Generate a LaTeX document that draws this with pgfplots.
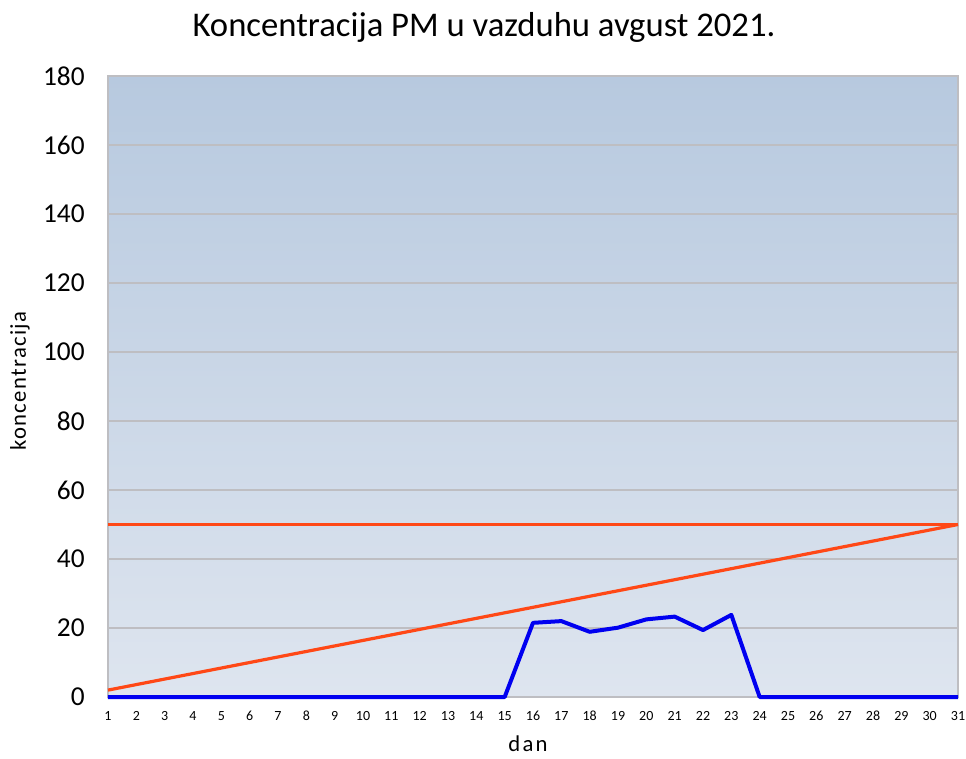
\documentclass[border=0pt]{standalone}
\usepackage{pgfplots}
\pgfplotsset{compat=1.18}
\usepackage{fontspec}
\setmainfont{Carlito}
\definecolor{bgtop}{RGB}{183,201,223}
\definecolor{bgbot}{RGB}{222,229,239}
\definecolor{gridc}{RGB}{190,190,194}
\definecolor{orangeline}{RGB}{255,72,22}
\definecolor{blueline}{RGB}{0,0,240}
\begin{document}
\begin{tikzpicture}[x=0.75pt,y=0.75pt]
\path[use as bounding box] (-108,-61) rectangle (858,697);
\begin{axis}[
  at={(0,0)}, anchor=south west,
  scale only axis,
  width=637.5pt, height=465.75pt,
  xmin=1, xmax=31, ymin=0, ymax=180,
  xtick={1,...,31},
  ytick={0,20,...,180},
  major tick length=0pt,
  ymajorgrids,
  grid style={gridc, line width=1.3pt},
  axis line style={gridc, line width=1.2pt},
  axis background/.style={top color=bgtop, bottom color=bgbot},
  clip=false,
  /pgf/number format/assume math mode=true,
  yticklabel style={font=\fontsize{20.5pt}{21pt}\selectfont, xshift=-14pt},
  xticklabel style={font=\fontsize{10.5pt}{11pt}\selectfont, yshift=-7pt},
]
\addplot[orangeline, line width=2.4pt] coordinates {(1,50) (31,50)};
\addplot[orangeline, line width=2.4pt] coordinates {(1,2) (31,50)};
\addplot[blueline, line width=3pt, line join=round] coordinates {
(1,0) (2,0) (3,0) (4,0) (5,0) (6,0) (7,0) (8,0) (9,0) (10,0)
(11,0) (12,0) (13,0) (14,0) (15,0) (16,21.5) (17,22) (18,18.9) (19,20.1)
(20,22.5) (21,23.3) (22,19.4) (23,23.8) (24,0) (25,0) (26,0) (27,0)
(28,0) (29,0) (30,0) (31,0)};
\end{axis}
\node[font=\fontsize{26pt}{28pt}\selectfont] at (376,670) {Koncentracija PM u vazduhu avgust 2021.};
\node[inner sep=0pt, font=\fontsize{17pt}{18pt}\selectfont\addfontfeatures{LetterSpace=10}] at (420,-47) {dan};
\node[inner sep=0pt, font=\fontsize{17pt}{18pt}\selectfont\addfontfeatures{LetterSpace=6}, rotate=90] at (-88,316) {koncentracija};
\end{tikzpicture}
\end{document}
